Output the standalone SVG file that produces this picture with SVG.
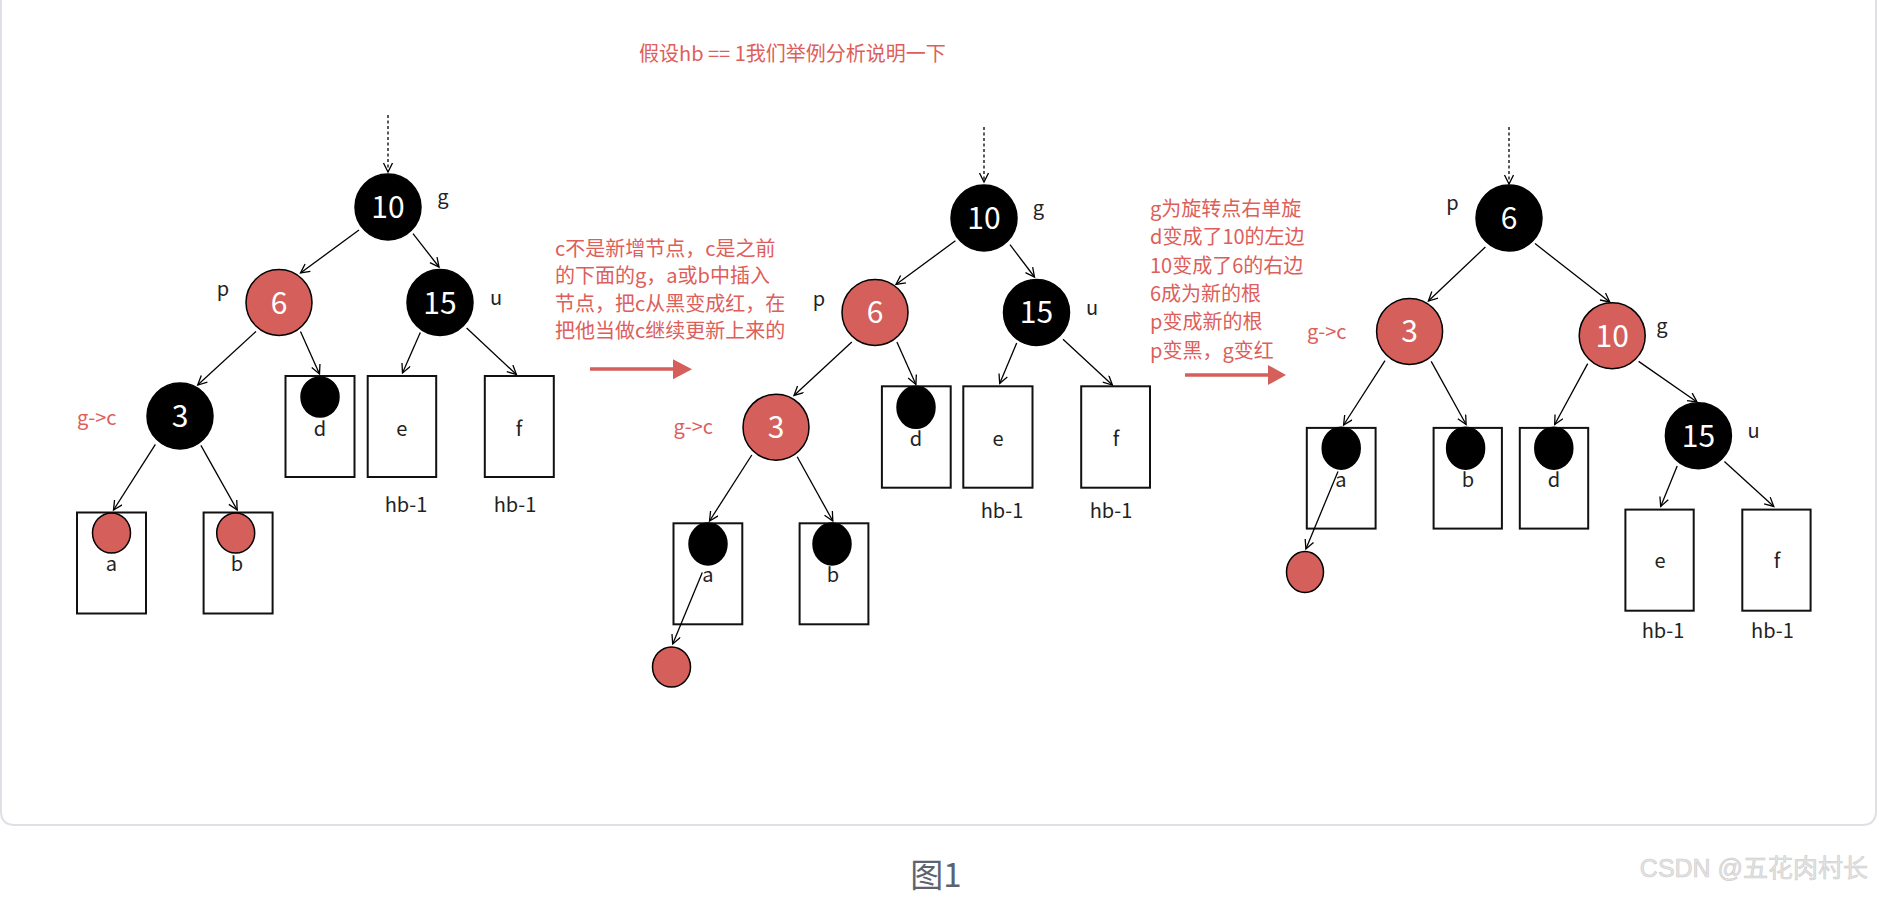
<svg xmlns="http://www.w3.org/2000/svg" width="1879" height="903" viewBox="0 0 1879 903">
<defs>
<marker id="arr" markerUnits="userSpaceOnUse" markerWidth="12" markerHeight="12" refX="10" refY="5" orient="auto">
<path d="M1,0.5 L10,5 L1,9.5" fill="none" stroke="#000" stroke-width="1.3"/>
</marker>
<style>
text{font-family:"Noto Sans CJK SC","Noto Sans",sans-serif}
.blk{fill:#000;stroke:#000;stroke-width:1.5}
.red{fill:#d45f5b;stroke:#000;stroke-width:1.5}
.num{fill:#fff;font-size:30px;text-anchor:middle}
.lbl{fill:#222;font-size:20px;text-anchor:middle}
.box{fill:none;stroke:#111;stroke-width:2}
.note{fill:#dd5e5a;font-size:20px}
.e{stroke:#000;stroke-width:1.3;fill:none;marker-end:url(#arr)}
.dot{stroke:#000;stroke-width:1.3;fill:none;stroke-dasharray:3,2.5;marker-end:url(#arr)}
.ra{stroke:#d45f5b;stroke-width:3.5}
</style>
</defs>
<rect width="1879" height="903" fill="#fff"/>
<path d="M1,0 V811 Q1,825 15,825 H1862 Q1876,825 1876,811 V0" fill="none" stroke="#dfdfe5" stroke-width="2"/>

<text id="title" class="note" x="639" y="61">假设hb == 1我们举例分析说明一下</text>

<!-- transition arrows and notes -->
<g id="step1-note">
<text class="note" x="555" y="256">c不是新增节点，c是之前</text>
<text class="note" x="555" y="283.3">的下面的g，a或b中插入</text>
<text class="note" x="555" y="310.6">节点，把c从黑变成红，在</text>
<text class="note" x="555" y="338">把他当做c继续更新上来的</text>
<line class="ra" x1="590" y1="369" x2="675" y2="369"/>
<polygon points="673,359.3 692,369.3 673,379.3" fill="#d45f5b"/>
</g>
<g id="step2-note">
<text class="note" x="1150" y="216">g为旋转点右单旋</text>
<text class="note" x="1150" y="244.3">d变成了10的左边</text>
<text class="note" x="1150" y="272.6">10变成了6的右边</text>
<text class="note" x="1150" y="301">6成为新的根</text>
<text class="note" x="1150" y="329.3">p变成新的根</text>
<text class="note" x="1150" y="357.6">p变黑，g变红</text>
<line class="ra" x1="1185" y1="375" x2="1270" y2="375"/>
<polygon points="1268,365 1286,375 1268,385" fill="#d45f5b"/>
</g>

<!-- ===== panel 1 ===== -->
<g id="p1-n10"><circle class="blk" cx="388" cy="207" r="33"/><text class="num" x="388" y="218">10</text><text class="lbl" x="443" y="204">g</text></g>
<g id="p1-n6"><circle class="red" cx="279" cy="302.5" r="33"/><text class="num" x="279" y="313.5">6</text><text class="lbl" x="223" y="296">p</text></g>
<g id="p1-n15"><circle class="blk" cx="440" cy="302.5" r="33"/><text class="num" x="440" y="313.5">15</text><text class="lbl" x="496" y="305">u</text></g>
<g id="p1-n3"><circle class="blk" cx="180" cy="416" r="33"/><text class="num" x="180" y="427">3</text><text class="note" x="77" y="425">g-&gt;c</text></g>
<g id="p1-a"><rect class="box" x="77" y="512.5" width="69" height="101"/><ellipse class="red" cx="111.5" cy="533" rx="19" ry="20"/><text class="lbl" x="111.5" y="571">a</text></g>
<g id="p1-b"><rect class="box" x="203.6" y="512.5" width="69" height="101"/><ellipse class="red" cx="235.7" cy="533" rx="19" ry="20"/><text class="lbl" x="237" y="571">b</text></g>
<g id="p1-d"><rect class="box" x="285.5" y="376" width="69" height="101"/><ellipse class="blk" cx="320" cy="397" rx="19" ry="20"/><text class="lbl" x="320" y="436">d</text></g>
<g id="p1-e"><rect class="box" x="367.7" y="376" width="68.5" height="101"/><text class="lbl" x="401.7" y="436">e</text><text class="lbl" x="406" y="512">hb-1</text></g>
<g id="p1-f"><rect class="box" x="484.8" y="376" width="69" height="101"/><text class="lbl" x="519" y="436">f</text><text class="lbl" x="515" y="512">hb-1</text></g>

<!-- ===== panel 2 ===== -->
<g id="p2-n10"><circle class="blk" cx="984" cy="218" r="33"/><text class="num" x="984" y="229">10</text><text class="lbl" x="1038.5" y="215">g</text></g>
<g id="p2-n6"><circle class="red" cx="875" cy="312.4" r="33"/><text class="num" x="875" y="323.4">6</text><text class="lbl" x="819" y="306">p</text></g>
<g id="p2-n15"><circle class="blk" cx="1036.5" cy="312.4" r="33"/><text class="num" x="1036.5" y="323.4">15</text><text class="lbl" x="1092" y="315">u</text></g>
<g id="p2-n3"><circle class="red" cx="776" cy="427.2" r="33"/><text class="num" x="776" y="438.2">3</text><text class="note" x="673.5" y="434">g-&gt;c</text></g>
<g id="p2-a"><rect class="box" x="673.5" y="523.3" width="68.8" height="101"/><ellipse class="blk" cx="708" cy="544" rx="19" ry="21"/><text class="lbl" x="708" y="582">a</text></g>
<g id="p2-b"><rect class="box" x="799.6" y="523.3" width="68.8" height="101"/><ellipse class="blk" cx="832" cy="544" rx="19" ry="21"/><text class="lbl" x="833" y="582">b</text></g>
<g id="p2-d"><rect class="box" x="881.9" y="386.3" width="68.8" height="101.4"/><ellipse class="blk" cx="916" cy="407.3" rx="19" ry="21"/><text class="lbl" x="916" y="446">d</text></g>
<g id="p2-e"><rect class="box" x="963.3" y="386.3" width="69.2" height="101.4"/><text class="lbl" x="998" y="446">e</text><text class="lbl" x="1002" y="518">hb-1</text></g>
<g id="p2-f"><rect class="box" x="1081.2" y="386.3" width="68.8" height="101.4"/><text class="lbl" x="1116" y="446">f</text><text class="lbl" x="1111" y="518">hb-1</text></g>
<g id="p2-new"><ellipse class="red" cx="671.5" cy="667" rx="19" ry="20"/></g>

<!-- ===== panel 3 ===== -->
<g id="p3-n6"><circle class="blk" cx="1509" cy="218" r="33"/><text class="num" x="1509" y="229">6</text><text class="lbl" x="1452.4" y="210.4">p</text></g>
<g id="p3-n3"><circle class="red" cx="1409.6" cy="331.4" r="33"/><text class="num" x="1409.6" y="342.4">3</text><text class="note" x="1307" y="339">g-&gt;c</text></g>
<g id="p3-n10"><circle class="red" cx="1612.2" cy="335.7" r="33"/><text class="num" x="1612.2" y="346.7">10</text><text class="lbl" x="1662" y="333.4">g</text></g>
<g id="p3-n15"><circle class="blk" cx="1698.4" cy="435.7" r="33"/><text class="num" x="1698.4" y="446.7">15</text><text class="lbl" x="1753.6" y="438.3">u</text></g>
<g id="p3-a"><rect class="box" x="1306.8" y="427.9" width="68.8" height="100.7"/><ellipse class="blk" cx="1341.2" cy="448.2" rx="19" ry="21"/><text class="lbl" x="1341" y="487">a</text></g>
<g id="p3-b"><rect class="box" x="1433.6" y="427.9" width="68.3" height="100.7"/><ellipse class="blk" cx="1465.6" cy="448.2" rx="19" ry="21"/><text class="lbl" x="1468" y="487">b</text></g>
<g id="p3-d"><rect class="box" x="1519.8" y="427.9" width="68.4" height="100.7"/><ellipse class="blk" cx="1553.8" cy="448.2" rx="19" ry="21"/><text class="lbl" x="1554" y="487">d</text></g>
<g id="p3-e"><rect class="box" x="1625.4" y="509.6" width="68.3" height="101.1"/><text class="lbl" x="1660" y="568">e</text><text class="lbl" x="1663" y="638">hb-1</text></g>
<g id="p3-f"><rect class="box" x="1742.3" y="509.6" width="68.3" height="101.1"/><text class="lbl" x="1777" y="568">f</text><text class="lbl" x="1772.4" y="638">hb-1</text></g>
<g id="p3-new"><ellipse class="red" cx="1305" cy="572" rx="18.5" ry="20.5"/></g>

<g id="connectors">
<!-- panel 1 -->
<line class="dot" x1="388" y1="115" x2="388" y2="172"/>
<line class="e" x1="359" y1="230" x2="300.5" y2="273"/>
<line class="e" x1="413" y1="233.6" x2="439" y2="267"/>
<line class="e" x1="256" y1="331.4" x2="197.7" y2="385"/>
<line class="e" x1="300.5" y1="331.4" x2="319.5" y2="374"/>
<line class="e" x1="420.3" y1="332.4" x2="402.5" y2="373"/>
<line class="e" x1="466.6" y1="328" x2="516.4" y2="374.5"/>
<line class="e" x1="155.4" y1="444.4" x2="113.5" y2="510"/>
<line class="e" x1="200.9" y1="445.4" x2="237.2" y2="510"/>
<!-- panel 2 -->
<line class="dot" x1="984" y1="127" x2="984" y2="182"/>
<line class="e" x1="955.4" y1="240.8" x2="896" y2="284.5"/>
<line class="e" x1="1010" y1="244.7" x2="1034.5" y2="277"/>
<line class="e" x1="851.8" y1="341.9" x2="794" y2="395.4"/>
<line class="e" x1="896.9" y1="341.9" x2="915.9" y2="384.5"/>
<line class="e" x1="1016.7" y1="343" x2="999.7" y2="383.5"/>
<line class="e" x1="1063" y1="339.2" x2="1112.4" y2="385"/>
<line class="e" x1="751.8" y1="455" x2="709.5" y2="521"/>
<line class="e" x1="797.2" y1="456.7" x2="832.8" y2="521"/>
<line class="e" x1="702.3" y1="572.6" x2="672.7" y2="644"/>
<!-- panel 3 -->
<line class="dot" x1="1509" y1="127" x2="1509" y2="184"/>
<line class="e" x1="1485.4" y1="247" x2="1428.4" y2="301"/>
<line class="e" x1="1535" y1="243.6" x2="1609.8" y2="302"/>
<line class="e" x1="1385" y1="360.7" x2="1343.6" y2="425"/>
<line class="e" x1="1431.2" y1="361.4" x2="1466.1" y2="424.5"/>
<line class="e" x1="1587.7" y1="363.6" x2="1554.7" y2="424.5"/>
<line class="e" x1="1638.6" y1="361.4" x2="1697" y2="402"/>
<line class="e" x1="1677.2" y1="466" x2="1660.7" y2="506.5"/>
<line class="e" x1="1724.4" y1="461.4" x2="1773.8" y2="506.5"/>
<line class="e" x1="1338" y1="471.4" x2="1305.9" y2="549"/>
</g>

<text id="caption" x="936" y="887" font-size="33" fill="#5b6370" text-anchor="middle">图1</text>
<text id="watermark" x="1868" y="877" font-size="25" fill="#e4e4e4" stroke="#cccccc" stroke-width="0.6" text-anchor="end" style="font-family:'Liberation Sans','Noto Sans CJK SC',sans-serif">CSDN @五花肉村长</text>
</svg>
